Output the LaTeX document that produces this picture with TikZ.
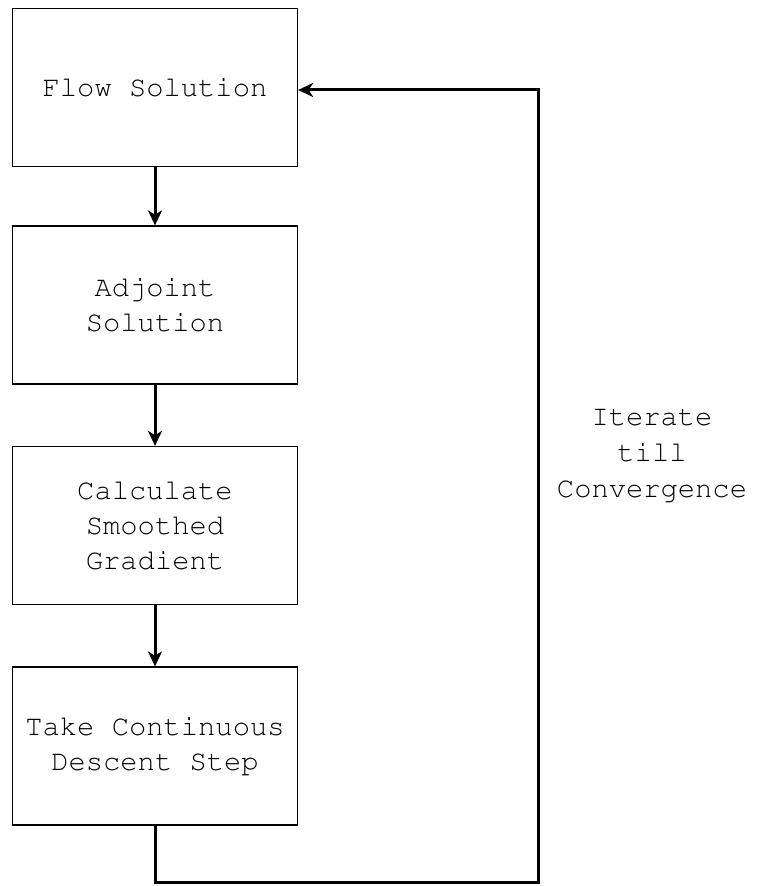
\documentclass[tikz,border=0pt]{standalone}
\usepackage[T1]{fontenc}
\usepackage{courier}
\usepackage{tikz}
\usetikzlibrary{arrows.meta,positioning}

\begin{document}
\begin{tikzpicture}[x=0.5pt,y=-0.5pt,
    stage/.style={draw,semithick,minimum width=142.5pt,minimum height=79pt,
        align=center,font=\ttfamily\fontsize{14.4}{17.5}\selectfont},
    flow/.style={line width=1.5pt,-{Stealth[length=7.5pt,width=7pt,inset=2.2pt]}}]
    \useasboundingbox (0,0) rectangle (760,886);

    % Stages of the loop
    \node[stage] (flowsol) at (155,87.5) {Flow Solution};
    \node[stage] (adjoint) at (155,305) {Adjoint\\Solution};
    \node[stage] (gradient) at (155,525.5) {Calculate\\Smoothed\\Gradient};
    \node[stage] (descent) at (155,746) {Take Continuous\\Descent Step};

    % Forward arrows
    \draw[flow] (flowsol) -- (adjoint);
    \draw[flow] (adjoint) -- (gradient);
    \draw[flow] (gradient) -- (descent);

    % Feedback loop back to the flow solver
    \coordinate (loopbl) at (155,882);
    \coordinate (loopbr) at (538,882);
    \coordinate (looptr) at (538,90);
    \draw[flow,line join=miter] (descent.south) -- (loopbl) -- (loopbr) -- (looptr)
        -- (flowsol.east |- looptr);
    \node[align=center,font=\ttfamily\fontsize{14.4}{18}\selectfont] (iterlabel)
        at (652,456) {Iterate\\till\\Convergence};
\end{tikzpicture}
\end{document}
